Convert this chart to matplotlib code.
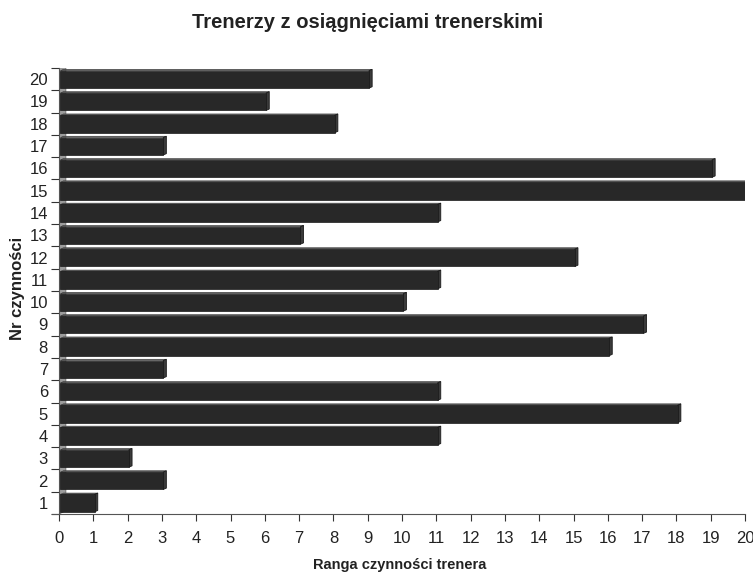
import matplotlib.pyplot as plt
from matplotlib.patches import Polygon

plt.rcParams['font.family'] = ['Liberation Sans', 'DejaVu Sans']

# data
categories = list(range(1, 21))
values = [1, 3, 2, 11, 18, 11, 3, 16, 17, 10, 11, 15, 7, 11, 20, 19, 3, 8, 6, 9]
x_ticks = list(range(0, 21))

title = "Trenerzy z osiągnięciami trenerskimi"
x_label = "Ranga czynności trenera"
y_label = "Nr czynności"

fig = plt.figure(figsize=(7.53, 5.74), dpi=100)
ax = fig.add_axes([59 / 753, 1 - 514 / 574, 686 / 753, 446 / 574])

# fake 3d depth in data units
wall_dx, wall_dy = 0.2, 0.15
dx, dy = 0.09, 0.06
x0 = 0.04

# left wall
wall = Polygon([(0, 0.5), (wall_dx, 0.5 + wall_dy), (wall_dx, 20.5 + wall_dy), (0, 20.5)],
               closed=True, facecolor='#9c9c9c', edgecolor='#6a6a6a',
               lw=0.6, zorder=1)
ax.add_patch(wall)

for c, v in zip(categories, values):
    yb = c - 0.40
    yt = c + 0.38
    xe = x0 + v
    # top face
    ax.add_patch(Polygon([(x0, yt), (x0 + dx, yt + dy), (xe + dx, yt + dy), (xe, yt)],
                         closed=True, facecolor='#5a5a5a', edgecolor='#3a3a3a', lw=0.4, zorder=2))
    # right face
    ax.add_patch(Polygon([(xe, yb), (xe + dx, yb + dy), (xe + dx, yt + dy), (xe, yt)],
                         closed=True, facecolor='#3a3a3a', edgecolor='#1a1a1a', lw=0.6, zorder=2))
    # front face
    ax.add_patch(Polygon([(x0, yb), (xe, yb), (xe, yt), (x0, yt)],
                         closed=True, facecolor='#282828', edgecolor='#1a1a1a', lw=0.5, zorder=3))

ax.set_xlim(0, 20)
ax.set_ylim(0.5, 20.5)
ax.set_xticks(x_ticks)
ax.set_yticks(categories)
ax.set_yticks([c + 0.5 for c in categories[:-1]] + [0.5, 20.5], minor=True)
ax.tick_params(axis='y', which='major', length=0, pad=8, labelsize=12, labelcolor='#222222')
ax.tick_params(axis='y', which='minor', length=6, width=0.8, color='#333333')
ax.tick_params(axis='x', length=5, width=0.8, color='#333333', labelsize=12, pad=7,
               labelcolor='#222222')

for s in ['top', 'right']:
    ax.spines[s].set_visible(False)
ax.spines['left'].set_color('#555555')
ax.spines['bottom'].set_color('#555555')
ax.spines['bottom'].set_bounds(-0.2, 20)
ax.spines['bottom'].set_clip_on(False)

fig.text(368 / 753, 1 - 22 / 574, title, ha='center', va='center',
         fontsize=14.5, fontweight='bold', color='#222222')
fig.text(400 / 753, 1 - 565 / 574, x_label, ha='center', va='center',
         fontsize=10.5, fontweight='bold', color='#222222')
fig.text(18 / 753, 1 - 288 / 574, y_label, ha='center', va='center', rotation=90,
         fontsize=12, fontweight='bold', color='#222222')

fig.savefig('out.png', dpi=100)
